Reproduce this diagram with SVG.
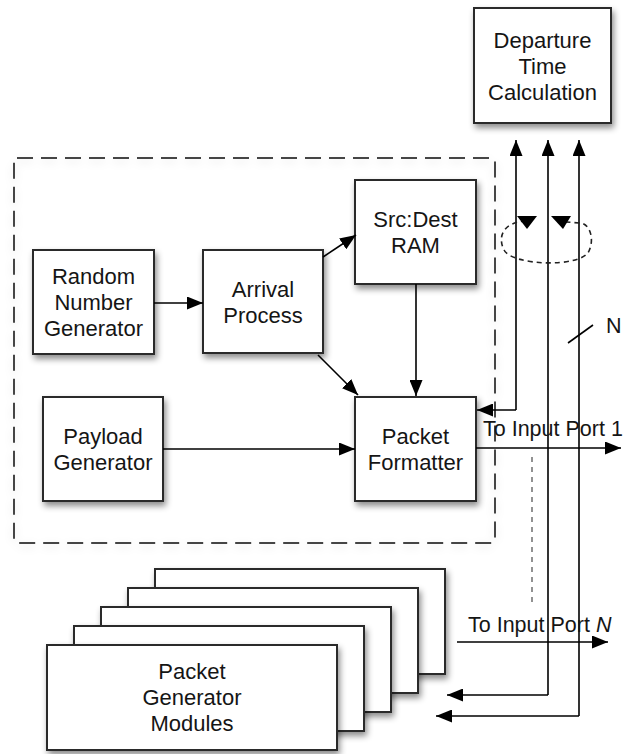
<svg xmlns="http://www.w3.org/2000/svg" width="632" height="754" viewBox="0 0 632 754">
<defs>
<filter id="sh" x="-20%" y="-20%" width="150%" height="150%">
<feDropShadow dx="2" dy="4" stdDeviation="3" flood-color="#000" flood-opacity="0.45"/>
</filter>
<filter id="sh2" x="-10%" y="-10%" width="120%" height="120%">
<feDropShadow dx="0" dy="3" stdDeviation="4" flood-color="#000" flood-opacity="0.12"/>
</filter>
<marker id="ah" markerUnits="userSpaceOnUse" markerWidth="17" markerHeight="13" refX="16" refY="6.5" orient="auto">
<path d="M0,0 L16,6.5 L0,13 z" fill="#000"/>
</marker>
</defs>
<style>
.box{fill:#fff;stroke:#2b2b2b;stroke-width:2;filter:url(#sh)}
.lbl{font-family:"Liberation Sans",Arial,sans-serif;font-size:22px;fill:#151515;text-anchor:middle}
.port{font-family:"Liberation Sans",Arial,sans-serif;font-size:21.5px;fill:#151515}
.c{fill:none;stroke:#000;stroke-width:1.6}
.ca{fill:none;stroke:#000;stroke-width:1.6;marker-end:url(#ah)}
</style>

<g id="group-box">
<rect x="14" y="158" width="481" height="385" rx="3" fill="none" stroke="#444" stroke-width="2" stroke-dasharray="16 8" filter="url(#sh2)"/>
</g>

<g id="departure">
<rect class="box" x="474" y="8" width="137" height="115"/>
<text class="lbl" x="542.5" y="48">Departure</text>
<text class="lbl" x="542.5" y="74">Time</text>
<text class="lbl" x="542.5" y="100">Calculation</text>
</g>

<g id="rng">
<rect class="box" x="33" y="250" width="121" height="104"/>
<text class="lbl" x="93.5" y="284">Random</text>
<text class="lbl" x="93.5" y="310">Number</text>
<text class="lbl" x="93.5" y="336">Generator</text>
</g>

<g id="arrival">
<rect class="box" x="203" y="250" width="120" height="103"/>
<text class="lbl" x="263" y="297">Arrival</text>
<text class="lbl" x="263" y="323">Process</text>
</g>

<g id="srcdest">
<rect class="box" x="355" y="180" width="121" height="104"/>
<text class="lbl" x="415.5" y="227">Src:Dest</text>
<text class="lbl" x="415.5" y="253">RAM</text>
</g>

<g id="payload">
<rect class="box" x="43" y="397" width="120" height="104"/>
<text class="lbl" x="103" y="444">Payload</text>
<text class="lbl" x="103" y="470">Generator</text>
</g>

<g id="formatter">
<rect class="box" x="355" y="397" width="121" height="104"/>
<text class="lbl" x="415.5" y="444">Packet</text>
<text class="lbl" x="415.5" y="470">Formatter</text>
</g>

<g id="modules">
<rect class="box" x="155" y="569" width="290" height="105"/>
<rect class="box" x="128" y="588" width="290" height="105"/>
<rect class="box" x="101" y="607" width="290" height="105"/>
<rect class="box" x="74" y="626" width="290" height="105"/>
<rect class="box" x="47" y="645" width="290" height="105"/>
<text class="lbl" x="192" y="679">Packet</text>
<text class="lbl" x="192" y="705">Generator</text>
<text class="lbl" x="192" y="731">Modules</text>
</g>

<g id="connectors">
<line class="ca" x1="154" y1="303" x2="203" y2="303"/>
<line class="ca" x1="323" y1="257" x2="356" y2="235"/>
<line class="ca" x1="318" y1="355" x2="358" y2="395"/>
<line class="ca" x1="416" y1="284" x2="416" y2="396"/>
<line class="ca" x1="163" y1="449" x2="355" y2="449"/>
<line class="ca" x1="476" y1="448" x2="621" y2="448"/>
<line class="ca" x1="457" y1="642" x2="608" y2="642"/>
<polyline class="c" points="516,410 516,140" marker-end="url(#ah)"/>
<polyline class="ca" points="516,410 477,410"/>
<polyline class="c" points="548,695 548,140" marker-end="url(#ah)"/>
<polyline class="ca" points="548,695 447,695"/>
<polyline class="c" points="579,716 579,140" marker-end="url(#ah)"/>
<polyline class="ca" points="579,716 436,716"/>
<line x1="532" y1="457" x2="532" y2="607" stroke="#777" stroke-width="1.6" stroke-dasharray="5 5"/>
<path d="M526,221 C504,222 497,236 504,250 C512,266 582,268 589,251 C595,238 589,223 580,223 L566,222" fill="none" stroke="#222" stroke-width="1.6" stroke-dasharray="5 4"/>
<path d="M517,216 L537,216 L527,229 z" fill="#000"/>
<path d="M551,216 L571,216 L563,229 z" fill="#000"/>
<line x1="568" y1="343" x2="593" y2="325" stroke="#000" stroke-width="1.6"/>
</g>

<g id="labels">
<text class="port" x="483" y="436">To Input Port 1</text>
<text class="port" x="468" y="632">To Input Port <tspan font-style="italic">N</tspan></text>
<text class="port" x="606" y="333">N</text>
</g>
</svg>
